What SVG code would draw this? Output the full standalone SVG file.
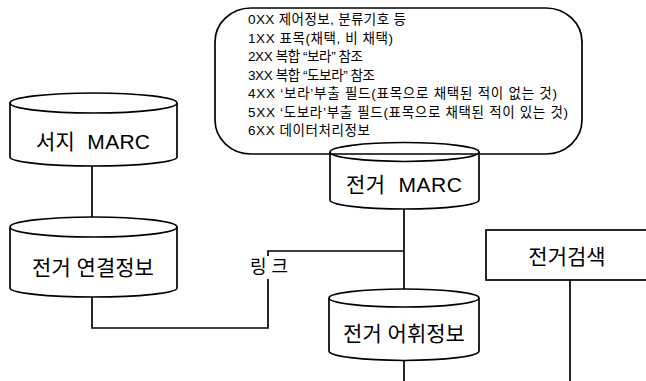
<svg xmlns="http://www.w3.org/2000/svg" width="646" height="381" viewBox="0 0 646 381">
<style>
.s{fill:none;stroke:#000;stroke-width:1.7}
.c{fill:#fff;stroke:#000;stroke-width:1.7}
.t{font-family:"Liberation Sans","Noto Sans CJK KR",sans-serif;fill:#000}
.lbl{font-size:21px;text-anchor:middle;dominant-baseline:central}
.ln{font-size:13.5px}
</style>
<rect width="646" height="381" fill="#fff"/>
<g id="connectors" class="s">
<line x1="92" y1="166" x2="92" y2="218"/>
<polyline points="92,297 92,328 268,328 268,279"/>
<polyline points="268,256 268,251 404,251"/>
<line x1="404" y1="209" x2="404" y2="290"/>
<line x1="404" y1="360" x2="404" y2="381"/>
<line x1="570" y1="280" x2="570" y2="381"/>
<text class="t" x="269" y="267" font-size="18" text-anchor="middle" dominant-baseline="central" stroke="none">링 크</text>
</g>
<g id="seoji-marc">
<path class="c" d="M10,103 A83.5,10 0 0 1 177,103 L177,157 A83.5,9 0 0 1 10,157 Z"/>
<path class="s" d="M10,103 A83.5,10 0 0 0 177,103"/>
<text class="t lbl" x="93" y="141" xml:space="preserve" textLength="114" lengthAdjust="spacing">서지  MARC</text>
</g>
<g id="link-info">
<path class="c" d="M10,227 A83.5,10 0 0 1 177,227 L177,288 A83.5,9 0 0 1 10,288 Z"/>
<path class="s" d="M10,227 A83.5,10 0 0 0 177,227"/>
<text class="t lbl" x="93" y="267">전거 연결정보</text>
</g>
<g id="authority-marc">
<path class="c" d="M330,152 A74.5,9.5 0 0 1 479,152 L479,200 A74.5,9 0 0 1 330,200 Z"/>
<path class="s" d="M330,152 A74.5,9.5 0 0 0 479,152"/>
<text class="t lbl" x="404" y="184" xml:space="preserve" textLength="116" lengthAdjust="spacing">전거  MARC</text>
</g>
<g id="callout">
<rect class="s" x="215" y="8" width="367" height="146" rx="36" ry="34"/>
<text class="t ln" x="248" y="24" textLength="158" lengthAdjust="spacing">0XX 제어정보, 분류기호 등</text>
<text class="t ln" x="248" y="42.5" textLength="145" lengthAdjust="spacing">1XX 표목(채택, 비 채택)</text>
<text class="t ln" x="248" y="61" textLength="115" lengthAdjust="spacing">2XX 복합 “보라” 참조</text>
<text class="t ln" x="248" y="79.5" textLength="127" lengthAdjust="spacing">3XX 복합 “도보라” 참조</text>
<text class="t ln" x="248" y="98" textLength="309" lengthAdjust="spacing">4XX ‘보라’부출 필드(표목으로 채택된 적이 없는 것)</text>
<text class="t ln" x="248" y="116.5" textLength="320" lengthAdjust="spacing">5XX ‘도보라’부출 필드(표목으로 채택된 적이 있는 것)</text>
<text class="t ln" x="248" y="135" textLength="122" lengthAdjust="spacing">6XX 데이터처리정보</text>
</g>
<g id="vocab-info">
<path class="c" d="M329,298 A75,9 0 0 1 479,298 L479,351 A75,9.5 0 0 1 329,351 Z"/>
<path class="s" d="M329,298 A75,9 0 0 0 479,298"/>
<text class="t lbl" x="404" y="333">전거 어휘정보</text>
</g>
<g id="authority-search">
<rect class="s" x="486" y="230" width="170" height="50"/>
<text class="t lbl" x="567" y="256">전거검색</text>
</g>
</svg>
